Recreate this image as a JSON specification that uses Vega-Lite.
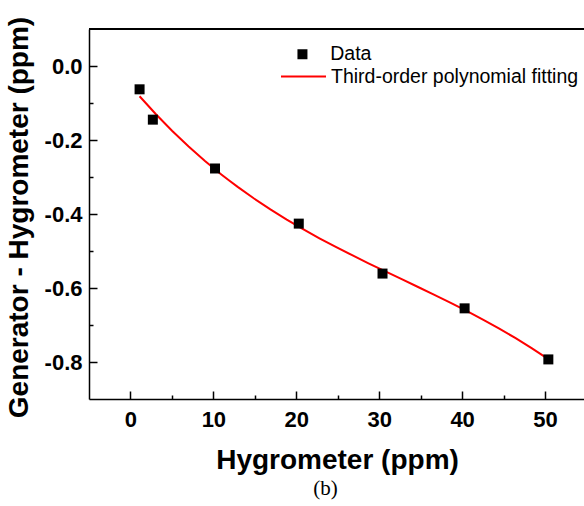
{
  "$schema": "https://vega.github.io/schema/vega-lite/v6.json",
  "autosize": "none",
  "width": 495,
  "height": 370,
  "padding": {"left": 89, "top": 29, "right": 0, "bottom": 107},
  "background": "white",
  "config": {
    "view": {"stroke": null},
    "font": "Liberation Sans",
    "axis": {"grid": false, "domainColor": "black", "domainWidth": 1.5, "tickColor": "black", "tickWidth": 1.5, "labelColor": "black", "titleColor": "black", "labelFont": "Liberation Sans", "labelFontWeight": "bold", "labelFontSize": 22, "titleFont": "Liberation Sans", "titleFontWeight": "bold", "titleFontSize": 28},
    "legend": {"title": null, "orient": "none", "padding": 0, "labelFont": "Liberation Sans", "labelFontSize": 19.5, "labelColor": "black", "labelLimit": 400}
  },
  "title": {"text": "(b)", "orient": "bottom", "anchor": "middle", "font": "Liberation Serif", "fontSize": 21, "fontWeight": "normal", "color": "black", "offset": 3, "dx": -11},
  "data": {"values": [
    {"x": 1.1, "y": -0.063},
    {"x": 2.7, "y": -0.145},
    {"x": 10.2, "y": -0.277},
    {"x": 20.3, "y": -0.426},
    {"x": 30.4, "y": -0.561},
    {"x": 40.3, "y": -0.655},
    {"x": 50.4, "y": -0.793}
  ]},
  "resolve": {"axis": {"x": "independent", "y": "independent"}, "scale": {"color": "independent", "shape": "independent"}, "legend": {"color": "independent", "shape": "independent"}},
  "layer": [
    {
      "mark": {"type": "line", "strokeWidth": 2},
      "transform": [{"regression": "y", "on": "x", "method": "poly", "order": 3}],
      "encoding": {
        "x": {"field": "x", "type": "quantitative", "scale": {"domain": [-5, 54.7], "nice": false, "zero": false},
          "axis": {"orient": "bottom", "values": [5, 15, 25, 35, 45], "labels": false, "domain": false, "title": null, "tickSize": -4}},
        "y": {"field": "y", "type": "quantitative", "scale": {"domain": [-0.9, 0.1], "nice": false, "zero": false},
          "axis": {"orient": "left", "values": [-0.7, -0.5, -0.3, -0.1], "labels": false, "domain": false, "title": null, "tickSize": -4}},
        "color": {"datum": "Third-order polynomial fitting", "type": "nominal", "scale": {"range": ["#ff0000"]},
          "legend": {"legendX": 191, "legendY": 24, "symbolType": "stroke", "symbolSize": 2025, "symbolStrokeWidth": 2, "labelOffset": 4}}
      }
    },
    {
      "mark": {"type": "point", "filled": true, "color": "black", "size": 100, "opacity": 1},
      "encoding": {
        "x": {"field": "x", "type": "quantitative",
          "axis": {"orient": "bottom", "values": [0, 10, 20, 30, 40, 50], "tickSize": -8, "labelPadding": 18, "title": "Hygrometer (ppm)", "titleX": 248, "titleY": 69.5, "titleBaseline": "alphabetic", "titleAnchor": null}},
        "y": {"field": "y", "type": "quantitative",
          "axis": {"orient": "left", "values": [-0.8, -0.6, -0.4, -0.2, 0.0], "labelExpr": "replace(format(datum.value, '.1f'), '\u2212', '-')", "tickSize": -8, "labelPadding": 15, "title": "Generator - Hygrometer (ppm)", "titleX": -62, "titleY": 188, "titleBaseline": "alphabetic", "titleAngle": -90}},
        "shape": {"datum": "Data", "type": "nominal", "scale": {"range": ["square"]},
          "legend": {"legendX": 203.7, "legendY": 15.5, "symbolSize": 100, "symbolFillColor": "black", "symbolStrokeWidth": 0, "labelOffset": 18}}
      }
    },
    {
      "mark": {"type": "rule", "color": "black", "strokeWidth": 1.5},
      "encoding": {"y": {"datum": 0.1, "type": "quantitative", "axis": null}}
    }
  ]
}
